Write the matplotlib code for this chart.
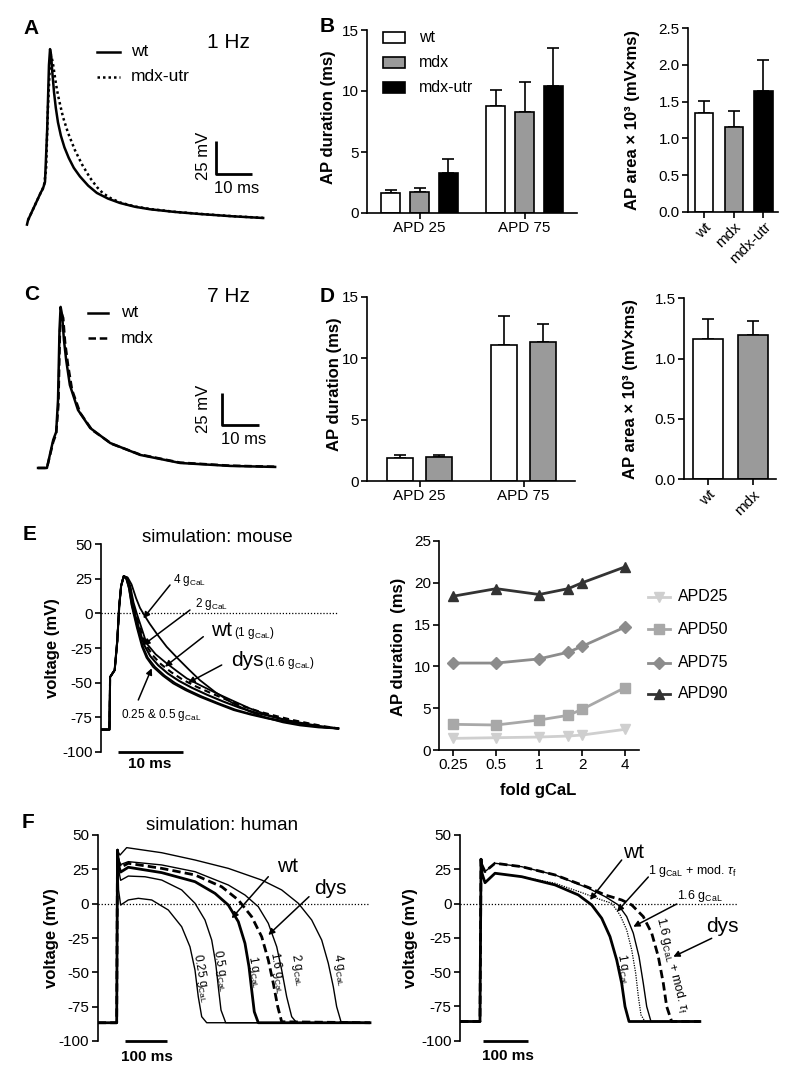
import matplotlib
matplotlib.use('Agg')
import matplotlib.pyplot as plt
from matplotlib.patches import Rectangle
from matplotlib.lines import Line2D
import numpy as np

plt.rcParams['font.family'] = ['Liberation Sans', 'DejaVu Sans']
plt.rcParams['mathtext.fontset'] = 'custom'
plt.rcParams['mathtext.rm'] = 'Liberation Sans'
plt.rcParams['mathtext.it'] = 'Liberation Sans:italic'
plt.rcParams['mathtext.bf'] = 'Liberation Sans:bold'
plt.rcParams['axes.unicode_minus'] = False

# ---------------- DATA ----------------
# Panel A (1 Hz) traces: time (ms), voltage (mV)
A_t_wt = [0.0, 0.3, 3.9, 4.4, 5.0, 5.6, 6.1, 6.4, 6.7, 7.0, 7.5, 8.0, 8.6, 9.4, 10.4, 11.6, 13.0, 14.7, 17.0, 19.4, 22.5, 25.8, 30.0, 34.2, 41.0, 48.1, 57.0, 65.6]
A_v_wt = [-83.5, -80, -58.8, -56.5, -51.2, -11.8, 37.4, 49.5, 45, 33, 17, 5, -6, -16, -25, -33, -40.5, -47, -54, -59.5, -63.8, -67.1, -70, -71.9, -73.9, -75.5, -77.2, -78.5]
A_t_utr = [0.3, 3.9, 4.7, 5.3, 5.8, 6.4, 6.7, 6.9, 7.3, 7.8, 8.3, 8.9, 10.0, 11.4, 13.3, 15.3, 17.5, 19.4, 21.0, 23.1, 25.8, 30.0, 34.2, 41.0, 48.1, 57.0, 65.6]
A_v_utr = [-80, -58.8, -54.2, -42, 3.3, 39.7, 44.2, 42.7, 37, 27.6, 19, 10.9, -2, -14, -27, -38, -48, -55, -59.5, -63.3, -66.7, -69.8, -71.7, -73.8, -75.4, -77.1, -78.4]

# Panel C (7 Hz)
C_t_wt = [0, 2.4, 4.1, 4.9, 5.4, 5.8, 6.1, 6.5, 7.0, 7.6, 8.6, 10.8, 14.1, 19.5, 27.6, 38.4, 51.9, 64.1]
C_v_wt = [-80, -80, -58.1, -51.9, -26.9, 27.8, 45.8, 39.5, 20, 4.4, -15.2, -34.7, -48.8, -60.5, -69.8, -76.1, -78.4, -79.2]
C_t_mdx = [0, 2.4, 4.1, 4.9, 5.5, 5.9, 6.2, 6.8, 7.3, 8.1, 9.2, 11.4, 14.6, 20.0, 27.6, 38.4, 51.9, 64.1]
C_v_mdx = [-80, -80, -59.7, -53.4, -30.8, 23.9, 41.9, 37.2, 18.4, 0.5, -19.1, -37, -50.3, -61.3, -69.5, -75.8, -78.2, -79.0]

# Panel B: AP duration (ms) and AP area at 1 Hz
B_groups = ['APD 25', 'APD 75']
B_wt = [1.67, 8.8]
B_wt_err = [0.25, 1.3]
B_mdx = [1.7, 8.27]
B_mdx_err = [0.38, 2.43]
B_utr = [3.26, 10.4]
B_utr_err = [1.14, 3.1]
B_area_labels = ['wt', 'mdx', 'mdx-utr']
B_area = [1.34, 1.15, 1.64]
B_area_err = [0.17, 0.22, 0.43]

# Panel D: 7 Hz
D_wt = [1.85, 11.1]
D_wt_err = [0.29, 2.3]
D_mdx = [1.93, 11.3]
D_mdx_err = [0.19, 1.45]
D_area_labels = ['wt', 'mdx']
D_area = [1.16, 1.20]
D_area_err = [0.17, 0.11]

# Panel E left: mouse simulation (time from axis, ms)
E_rise_t = [0.0, 1.3, 1.4, 2.1, 2.5, 2.8, 3.1]
E_rise_v = [-84, -84, -46, -41, -20, 5, 20]
E_t_025 = [3.5, 3.9, 4.3, 4.7, 5.0, 5.5, 6.3, 7.0, 8.0, 9.5, 11.1, 13.0, 15.2, 17.8, 20.4, 23.0, 25.5, 28.0, 30.6, 33.5, 36.5]
E_v_025 = [27, 25, 18, 6, 0, -10, -24, -32, -38.6, -45, -50.6, -55.5, -60.3, -65.2, -69.9, -73.2, -75.9, -78.2, -80, -82, -83.3]
E_t_05 = [3.5, 3.9, 4.3, 4.75, 5.1, 5.6, 6.45, 7.2, 8.3, 9.8, 11.4, 13.3, 15.5, 18.1, 20.7, 23.3, 25.8, 28.3, 30.8, 33.6, 36.5]
E_v_05 = [27, 25, 18.5, 6, 0, -10, -24, -32, -38.6, -45, -50.3, -55.2, -60, -65, -69.6, -73, -75.7, -78, -80, -82, -83.3]
E_t_1 = [3.5, 3.95, 4.4, 4.85, 5.2, 5.8, 6.6, 7.6, 8.8, 10.3, 12.0, 14.0, 16.3, 18.8, 21.4, 24.0, 26.6, 29.0, 31.5, 34.0, 36.5]
E_v_1 = [27, 25, 19, 7, 0, -10, -22.5, -31, -37.5, -43.5, -48.8, -53.8, -58.8, -63.7, -68.3, -72, -75, -77.6, -79.8, -81.8, -83.2]
E_t_16 = [3.5, 3.95, 4.45, 4.9, 5.3, 5.95, 6.8, 7.9, 9.2, 10.8, 12.5, 14.6, 17.0, 19.5, 22.0, 24.6, 27.2, 29.6, 32.0, 34.3, 36.5]
E_v_16 = [27, 25.5, 19.5, 7.5, 0, -10, -21.8, -30, -36.6, -42.5, -47.7, -52.8, -57.8, -62.8, -67.4, -71.3, -74.5, -77.2, -79.5, -81.6, -83.1]
E_t_2 = [3.5, 4.0, 4.5, 5.0, 5.5, 6.2, 7.0, 8.4, 10.1, 11.7, 13.2, 15.5, 17.8, 20.4, 22.9, 25.5, 28.0, 30.6, 33.3, 36.5]
E_v_2 = [27, 26, 20, 8, 0, -10, -21.6, -29.5, -36.1, -41.8, -47, -52.5, -57.8, -63.4, -68.7, -73.2, -76.6, -79.3, -81.5, -83]
E_t_4 = [3.5, 4.1, 4.7, 5.4, 6.0, 6.5, 7.5, 8.7, 10.1, 11.8, 13.5, 15.2, 17.6, 20.3, 22.9, 25.5, 28.0, 30.6, 33.5, 36.5]
E_v_4 = [27, 26, 21, 11, 4, 0, -7.5, -15.5, -24.1, -32.5, -40.5, -48.2, -57, -65, -71, -75.6, -78.8, -81, -82.5, -83.3]

# Panel E right: APD vs fold gCaL
E_fold = [0.25, 0.5, 1, 1.6, 2, 4]
E_fold_ticks = [0.25, 0.5, 1, 2, 4]
E_fold_labels = ['0.25', '0.5', '1', '2', '4']
APD25 = [1.39, 1.47, 1.55, 1.67, 1.79, 2.47]
APD50 = [3.07, 2.99, 3.59, 4.15, 4.86, 7.46]
APD75 = [10.4, 10.4, 10.9, 11.7, 12.4, 14.7]
APD90 = [18.4, 19.3, 18.6, 19.3, 20.0, 21.9]

# Panel F left: human simulation
F_t_025 = [0, 45.5, 47.5, 50, 55, 73.4, 97.4, 129.5, 169.3, 201.4, 221.3, 233.3, 241.2, 249.4, 261.4, 653]
F_v_025 = [-86.7, -86.7, 39, 10, -1, 2.7, 3.9, 2.7, -4.6, -16.8, -31.4, -48.3, -67.8, -82.3, -86.7, -86.7]
F_t_05 = [0, 45.5, 47.5, 50, 55, 73.4, 113.4, 153.5, 201.4, 233.3, 257.3, 273.4, 283, 289.2, 295.7, 307, 653]
F_v_05 = [-86.7, -86.7, 39, 25, 17, 20.1, 19.6, 17.2, 10, 0.3, -11.9, -26.5, -43.4, -60.5, -77.5, -86.7, -86.7]
F_t_1 = [0, 45.5, 47.5, 50, 55, 73.4, 153.5, 233.3, 281.3, 313.2, 337.2, 353.2, 362.8, 369.3, 375.5, 385.1, 653]
F_v_1 = [-86.7, -86.7, 39, 28, 23, 26.5, 22.6, 16, 7.5, -1, -13.1, -28.9, -45.9, -62.9, -78.7, -86.7, -86.7]
F_t_16 = [0, 45.5, 47.5, 50, 55, 73.4, 153.5, 233.3, 297.4, 337.2, 369.3, 393.3, 409.1, 421.1, 431.7, 441.2, 653]
F_v_16 = [-86.7, -86.7, 39, 31, 26.5, 29.4, 25.7, 20.9, 12.3, 2.7, -9.5, -24.1, -41, -58, -75, -86, -86.7]
F_t_2 = [0, 45.5, 47.5, 50, 55, 73.4, 153.5, 233.3, 313.2, 353.2, 385.1, 409.1, 429.3, 441.2, 453.2, 465.2, 477.2, 653]
F_v_2 = [-86.7, -86.7, 39, 32, 28.5, 30.6, 28.2, 23.3, 13.6, 6.3, -2.2, -14.3, -31.4, -48.3, -67.8, -82.3, -86.7, -86.7]
F_t_4 = [0, 45.5, 47.5, 50, 53.5, 69.5, 153.5, 233.3, 313.2, 393.3, 441.2, 481, 513.2, 537.2, 553, 565, 573, 583.5, 653]
F_v_4 = [-86.7, -86.7, 39, 37, 35.4, 40.8, 37.1, 31.8, 25.7, 17.2, 10, 0.3, -11.9, -26.5, -43.4, -60.5, -75, -86, -86.7]

# Panel F right
G_t_1 = [0, 44.4, 46.7, 49, 55.6, 77.8, 137.1, 211.1, 262.9, 292.7, 314.9, 333.3, 348.2, 359.3, 366.7, 375.6, 533]
G_v_1 = [-86, -86, 32.3, 22, 15.2, 22.1, 19.6, 13.6, 6.3, -1, -10.7, -24.1, -41.1, -58.1, -75.1, -86, -86]
G_t_1m = [0, 44.4, 46.7, 49, 55.6, 77.8, 137.1, 211.1, 270.4, 314.9, 337.1, 355.6, 370.4, 381.6, 390.4, 396.3, 402.2, 411.1, 533]
G_v_1m = [-86, -86, 32.3, 22, 15.2, 22.1, 19.6, 14.8, 8, 2.6, 0.2, -8.3, -19.2, -33.8, -50.8, -67.8, -81.2, -86, -86]
G_t_16 = [0, 44.4, 46.7, 49, 55.6, 77.8, 137.1, 211.1, 285.1, 322.2, 351.8, 370.4, 385.1, 397.8, 407.3, 414.9, 424.4, 533]
G_v_16 = [-86, -86, 32.3, 28, 23.3, 29.4, 26.9, 20.9, 11.2, 5.1, -1, -9.5, -21.6, -38.7, -58.1, -75.1, -86, -86]
G_t_dys = [0, 44.4, 46.7, 49, 55.6, 77.8, 137.1, 211.1, 285.1, 322.2, 359.3, 381.6, 407.3, 426, 440.7, 451.8, 459.3, 470.4, 533]
G_v_dys = [-86, -86, 32.3, 28, 23.3, 29.4, 26.9, 20.9, 11.8, 6.3, 2.6, -1, -9.5, -21.6, -38.7, -58.1, -75.1, -86, -86]

# ---------------- FIGURE ----------------
W, H = 800, 1077
fig = plt.figure(figsize=(8, 10.77), dpi=100)

def add_ax(l, t, r, b):
    return fig.add_axes([l / W, 1 - b / H, (r - l) / W, (b - t) / H])

def style(ax):
    for s in ['top', 'right']:
        ax.spines[s].set_visible(False)
    for s in ['left', 'bottom']:
        ax.spines[s].set_linewidth(1.2)
    ax.tick_params(width=1.2, length=4, labelsize=11, direction='out', pad=2)

WHITE, GRAY, BLACK = 'white', '#9a9a9a', 'black'

# ---- Panel A ----
axA = add_ax(25.2, 40, 266.4, 230)
axA.plot(A_t_wt, A_v_wt, color='k', lw=1.8)
axA.plot(A_t_utr, A_v_utr, color='k', lw=1.8, ls=(0, (1, 1.2)))
axA.set_xlim(-0.5, 66.5)
axA.set_ylim(-87.6, 56.4)
axA.axis('off')
# scale bar 10 ms / 25 mV
axA.plot([52.5, 52.5, 62.5], [-20.2, -45.2, -45.2], color='k', lw=2, solid_capstyle='butt')

# ---- Panel C ----
axC = add_ax(36.2, 290, 284, 480)
axC.plot(C_t_wt, C_v_wt, color='k', lw=1.8)
axC.plot(C_t_mdx, C_v_mdx, color='k', lw=1.8, ls=(0, (3, 1.5)))
axC.set_xlim(-0.5, 66.5)
axC.set_ylim(-89.4, 59)
axC.axis('off')
axC.plot([49.7, 49.7, 59.7], [-21.4, -46.4, -46.4], color='k', lw=2, solid_capstyle='butt')

# ---- bar helper ----
def grouped(ax, means, errs, colors, offsets, width):
    x = np.arange(len(means[0]))
    for m, e, c, o in zip(means, errs, colors, offsets):
        ax.errorbar(x + o, m, yerr=[np.zeros(len(m)), e], fmt='none', ecolor='k',
                    elinewidth=1.2, capsize=4, capthick=1.2, zorder=1)
        ax.bar(x + o, m, width, color=c, edgecolor='k', lw=1.2, zorder=2)

# ---- Panel B ----
axB = add_ax(367, 30, 577, 213)
grouped(axB, [B_wt, B_mdx, B_utr], [B_wt_err, B_mdx_err, B_utr_err],
        [WHITE, GRAY, BLACK], [-0.272, 0, 0.272], 0.181)
axB.set_xlim(-0.5, 1.5); axB.set_ylim(0, 15)
axB.set_yticks([0, 5, 10, 15])
axB.set_xticks([0, 1]); axB.set_xticklabels(B_groups)
style(axB)

axB2 = add_ax(688, 28.3, 778, 211.7)
xb = np.arange(3)
axB2.errorbar(xb, B_area, yerr=[np.zeros(3), B_area_err], fmt='none', ecolor='k',
              elinewidth=1.2, capsize=4, capthick=1.2, zorder=1)
axB2.bar(xb, B_area, 0.62, color=[WHITE, GRAY, BLACK], edgecolor='k', lw=1.2, zorder=2)
axB2.set_xlim(-0.54, 2.49); axB2.set_ylim(0, 2.5)
axB2.set_yticks([0, 0.5, 1.0, 1.5, 2.0, 2.5])
axB2.set_yticklabels(['0.0', '0.5', '1.0', '1.5', '2.0', '2.5'])
axB2.set_xticks(xb)
axB2.set_xticklabels(B_area_labels, rotation=45, ha='right', rotation_mode='anchor')
style(axB2)

# ---- Panel D ----
axD = add_ax(367, 296.7, 575, 481)
grouped(axD, [D_wt, D_mdx], [D_wt_err, D_mdx_err], [WHITE, GRAY], [-0.1875, 0.1875], 0.25)
axD.set_xlim(-0.505, 1.495); axD.set_ylim(0, 15)
axD.set_yticks([0, 5, 10, 15])
axD.set_xticks([0, 1]); axD.set_xticklabels(B_groups)
style(axD)

axD2 = add_ax(684, 298.3, 776, 479.3)
xd = np.arange(2)
axD2.errorbar(xd, D_area, yerr=[np.zeros(2), D_area_err], fmt='none', ecolor='k',
              elinewidth=1.2, capsize=4, capthick=1.2, zorder=1)
axD2.bar(xd, D_area, 0.667, color=[WHITE, GRAY], edgecolor='k', lw=1.2, zorder=2)
axD2.set_xlim(-0.533, 1.51); axD2.set_ylim(0, 1.5)
axD2.set_yticks([0, 0.5, 1.0, 1.5])
axD2.set_yticklabels(['0.0', '0.5', '1.0', '1.5'])
axD2.set_xticks(xd)
axD2.set_xticklabels(D_area_labels, rotation=45, ha='right', rotation_mode='anchor')
style(axD2)

# ---- Panel E left ----
axE = add_ax(101, 544.3, 345, 751.7)
xmaxE = (345 - 101) / 6.5
axE.set_xlim(0, xmaxE); axE.set_ylim(-100, 50)
axE.axhline(0, xmin=0, xmax=36.5 / xmaxE, color='k', lw=0.9, ls=(0, (1, 1.5)))
for tt, vv, lw in [(E_t_025, E_v_025, 1.3), (E_t_05, E_v_05, 1.3), (E_t_1, E_v_1, 1.5),
                   (E_t_2, E_v_2, 1.3), (E_t_4, E_v_4, 1.3)]:
    axE.plot(E_rise_t + tt, E_rise_v + vv, color='k', lw=lw)
axE.plot(E_rise_t + E_t_16, E_rise_v + E_v_16, color='k', lw=1.5, ls=(0, (3, 2)))
axE.plot([2.6, 12.6], [-100, -100], color='k', lw=2, clip_on=False, solid_capstyle='butt')
style(axE)
axE.spines['bottom'].set_visible(False)
axE.set_xticks([])
axE.set_yticks([-100, -75, -50, -25, 0, 25, 50])

# ---- Panel E right ----
axE2 = add_ax(439.3, 541, 639, 750)
series = [(APD25, '#cfcfcf', 'v'), (APD50, '#a8a8a8', 's'),
          (APD75, '#8c8c8c', 'D'), (APD90, '#333333', '^')]
for vals, col, mk in series:
    axE2.plot(E_fold, vals, color=col, marker=mk, ms=7 if mk != 'D' else 6, lw=2, mec=col, mfc=col)
axE2.set_xscale('log', base=2)
axE2.set_xlim(0.1993, 5.02); axE2.set_ylim(0, 25)
axE2.set_xticks(E_fold_ticks); axE2.set_xticklabels(E_fold_labels)
axE2.xaxis.set_minor_locator(matplotlib.ticker.NullLocator())
axE2.set_yticks([0, 5, 10, 15, 20, 25])
style(axE2)

# ---- Panel F left ----
axF = add_ax(97.7, 835, 372, 1041)
xmaxF = (372 - 97.7) / 0.417
axF.set_xlim(0, xmaxF); axF.set_ylim(-100, 50)
axF.axhline(0, xmin=0, xmax=648 / xmaxF, color='k', lw=0.9, ls=(0, (1, 1.5)))
for tt, vv in [(F_t_025, F_v_025), (F_t_05, F_v_05), (F_t_2, F_v_2), (F_t_4, F_v_4)]:
    axF.plot(tt, vv, color='k', lw=1.0)
axF.plot(F_t_1, F_v_1, color='k', lw=2.0)
axF.plot(F_t_16, F_v_16, color='k', lw=2.0, ls=(0, (3, 1.5)))
axF.plot([65.5, 165.5], [-100, -100], color='k', lw=2, clip_on=False, solid_capstyle='butt')
style(axF)
axF.spines['bottom'].set_visible(False)
axF.set_xticks([])
axF.set_yticks([-100, -75, -50, -25, 0, 25, 50])

# ---- Panel F right ----
axG = add_ax(460, 835, 740, 1040.7)
xmaxG = (740 - 460) / 0.45
axG.set_xlim(0, xmaxG); axG.set_ylim(-100, 50)
axG.axhline(0, xmin=0, xmax=615 / xmaxG, color='k', lw=0.9, ls=(0, (1, 1.5)))
axG.plot(G_t_16, G_v_16, color='k', lw=1.0)
axG.plot(G_t_1m, G_v_1m, color='k', lw=0.9, ls=(0, (1, 1)))
axG.plot(G_t_1, G_v_1, color='k', lw=2.0)
axG.plot(G_t_dys, G_v_dys, color='k', lw=2.0, ls=(0, (3, 1.5)))
axG.plot([50.4, 150.4], [-100, -100], color='k', lw=2, clip_on=False, solid_capstyle='butt')
style(axG)
axG.spines['bottom'].set_visible(False)
axG.set_xticks([])
axG.set_yticks([-100, -75, -50, -25, 0, 25, 50])

# ---------------- overlay for text / legends / arrows ----------------
ov = fig.add_axes([0, 0, 1, 1])
ov.set_xlim(0, W); ov.set_ylim(H, 0)
ov.axis('off')
ov.patch.set_alpha(0)
ov.set_zorder(10)

def T(x, y, s, size=11, **kw):
    kw.setdefault('ha', 'center'); kw.setdefault('va', 'center')
    ov.text(x, y, s, fontsize=size, **kw)

def arrow(tail, head, lw=1.1, ms=9):
    ov.annotate('', xy=head, xytext=tail,
                arrowprops=dict(arrowstyle='-|>', color='k', lw=lw, mutation_scale=ms,
                                shrinkA=0, shrinkB=0))

# panel letters
for x, y, s in [(31, 28.5, 'A'), (327, 27, 'B'), (32, 294.5, 'C'), (327, 296, 'D'),
                (30, 534, 'E'), (28, 822, 'F')]:
    T(x, y, s, size=15, fontweight='bold')

# Panel A texts
T(228, 43, '1 Hz', size=15)
ov.add_line(Line2D([97, 120], [51.7, 51.7], color='k', lw=1.8))
ov.add_line(Line2D([97, 120], [76.7, 76.7], color='k', lw=1.8, ls=(0, (1, 1.2))))
T(131, 51.7, 'wt', size=12.5, ha='left')
T(131, 76.7, 'mdx-utr', size=12.5, ha='left')
T(204, 156, '25 mV', size=12, rotation=90)
T(237, 188.5, '10 ms', size=12)

# Panel C texts
T(228, 297, '7 Hz', size=15)
ov.add_line(Line2D([88, 108], [312.7, 312.7], color='k', lw=1.8))
ov.add_line(Line2D([88, 108], [338.3, 338.3], color='k', lw=1.8, ls=(0, (3, 1.5))))
T(120.7, 312.7, 'wt', size=12.5, ha='left')
T(120.7, 338.3, 'mdx', size=12.5, ha='left')
T(204, 408.5, '25 mV', size=12, rotation=90)
T(244, 440, '10 ms', size=12)

# Panel B legend
for yy, col, lab in [(37.5, WHITE, 'wt'), (62.5, GRAY, 'mdx'), (87.5, BLACK, 'mdx-utr')]:
    ov.add_patch(Rectangle((383, yy - 5.8), 22, 11.6, facecolor=col, edgecolor='k', lw=1.2))
    T(419.3, yy, lab, size=11.5, ha='left')

# y labels
T(328, 116.7, 'AP duration (ms)', size=12, rotation=90, fontweight='bold')
T(632, 120, 'AP area × 10³ (mV×ms)', size=12, rotation=90, fontweight='bold')
T(335, 384, 'AP duration (ms)', size=12, rotation=90, fontweight='bold')
T(630.5, 389, 'AP area × 10³ (mV×ms)', size=12, rotation=90, fontweight='bold')
T(53, 648, 'voltage (mV)', size=12, rotation=90, fontweight='bold')
T(398.5, 647, 'AP duration  (ms)', size=12, rotation=90, fontweight='bold')
T(51.7, 938, 'voltage (mV)', size=12, rotation=90, fontweight='bold')
T(411, 938, 'voltage (mV)', size=12, rotation=90, fontweight='bold')
T(538, 790, 'fold gCaL', size=12, fontweight='bold')

# Panel E left annotations
T(217, 538, 'simulation: mouse', size=13.5)
T(150, 764, '10 ms', size=11, fontweight='bold')
T(173, 580, r'4 g$_\mathregular{CaL}$', size=8.5, ha='left')
T(195, 604, r'2 g$_\mathregular{CaL}$', size=8.5, ha='left')
T(211, 630, 'wt', size=15, ha='left')
T(234, 633, r'(1 g$_\mathregular{CaL}$)', size=8.5, ha='left')
T(231, 660, 'dys', size=15, ha='left')
T(264, 663, r'(1.6 g$_\mathregular{CaL}$)', size=8.5, ha='left')
T(121, 715, r'0.25 & 0.5 g$_\mathregular{CaL}$', size=8.5, ha='left')
arrow((170, 585), (143.3, 618.3))
arrow((190, 610), (143.3, 645))
arrow((203.3, 636.7), (165, 666.7))
arrow((221.7, 665), (188.3, 682.7))
arrow((138.3, 700), (151.7, 668.3))

# Panel E right legend
for yy, (vals, col, mk) in zip([596.7, 629.3, 662.7, 694], series):
    ov.add_line(Line2D([648, 670], [yy, yy], color=col, lw=2))
    ov.add_line(Line2D([659], [yy], color=col, marker=mk, ms=7 if mk != 'D' else 6, mec=col, mfc=col))
for yy, lab in zip([596.7, 629.3, 662.7, 694], ['APD25', 'APD50', 'APD75', 'APD90']):
    T(678, yy, lab, size=11.5, ha='left')

# Panel F left annotations
T(221.7, 825, 'simulation: human', size=13.5)
T(147, 1057, '100 ms', size=11, fontweight='bold')
T(288, 866, 'wt', size=15)
T(330, 889, 'dys', size=15)
arrow((268.3, 876.7), (231.7, 918.3))
arrow((309, 896.7), (268.3, 935))
for x, y, s in [(201, 978, '0.25 g'), (221, 971, '0.5 g'), (255, 972, '1 g'),
                (277.5, 973, '1.6 g'), (297.5, 970, '2 g'), (340, 970, '4 g')]:
    T(x, y, s + r'$_\mathregular{CaL}$', size=8.5, rotation=-80)

# Panel F right annotations
T(508, 1056, '100 ms', size=11, fontweight='bold')
T(634, 852, 'wt', size=15)
arrow((621.7, 860), (590, 900))
T(648, 871, r'1 g$_\mathregular{CaL}$ + mod. $\tau_\mathregular{f}$', size=9, ha='left')
arrow((648.3, 877), (617, 911.7))
T(677, 896, r'1.6 g$_\mathregular{CaL}$', size=9, ha='left')
arrow((676.7, 904), (633.3, 926.7))
T(722, 927, 'dys', size=15)
arrow((711.7, 938.3), (673.3, 956.7))
T(624, 970, r'1 g$_\mathregular{CaL}$', size=8.5, rotation=-80)
T(672, 965, r'1.6 g$_\mathregular{CaL}$ + mod. $\tau_\mathregular{f}$', size=9, rotation=-76)

fig.savefig('out.png', dpi=100)
